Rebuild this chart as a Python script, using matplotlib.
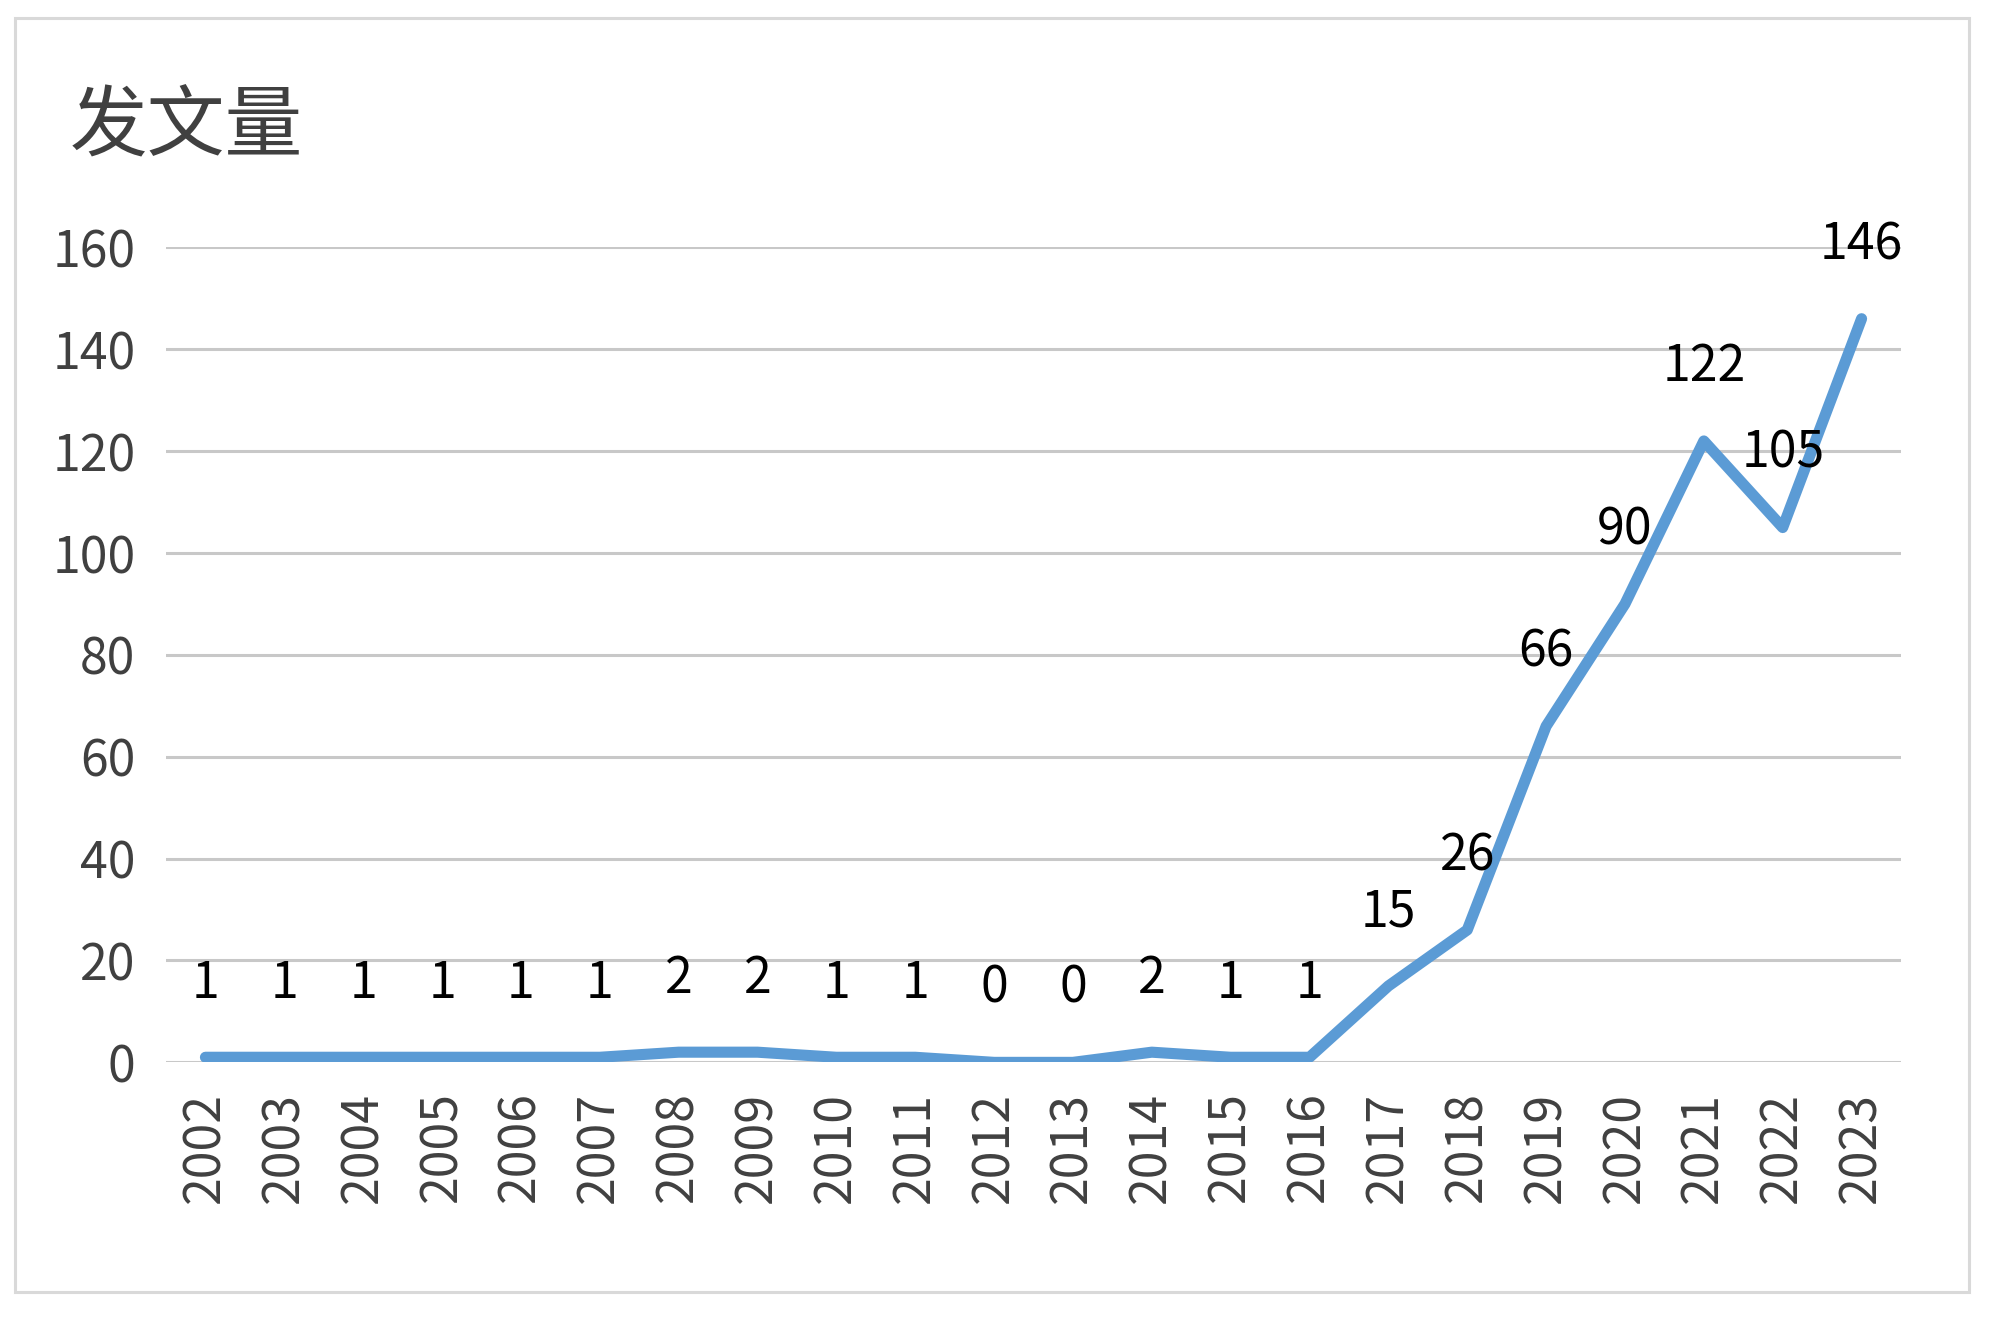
import matplotlib
matplotlib.use("Agg")
import matplotlib.pyplot as plt
from matplotlib.patches import Rectangle

# data
years = [str(y) for y in range(2002, 2024)]
counts = [1, 1, 1, 1, 1, 1, 2, 2, 1, 1, 0, 0, 2, 1, 1, 15, 26, 66, 90, 122, 105, 146]
y_ticks = [0, 20, 40, 60, 80, 100, 120, 140, 160]
title = "发文量"

plt.rcParams['font.family'] = ['Noto Sans CJK SC', 'DejaVu Sans']

fig = plt.figure(figsize=(20, 13.23), dpi=100)
ax = fig.add_axes([0.083, 0.197, 0.8675, 0.616])

x = list(range(len(years)))

# gridlines
for t in y_ticks:
    ax.axhline(t, color='#C8C8C8', linewidth=2.2, zorder=1)

ax.plot(x, counts, color='#5B9BD5', linewidth=8,
        solid_capstyle='round', solid_joinstyle='round', zorder=3)

# data labels above the points
for xi, v in zip(x, counts):
    ax.annotate(str(v), (xi, v), xytext=(0, 53), textcoords='offset points',
                ha='center', va='center', fontsize=36, color='black', zorder=4)

ax.set_xlim(-0.5, len(years) - 0.5)
ax.set_ylim(0, 160)
ax.set_yticks(y_ticks)
ax.set_xticks(x)
ax.set_xticklabels(years, rotation=90)
ax.tick_params(axis='both', length=0, labelsize=36, colors='#404040')
ax.tick_params(axis='y', pad=22)
ax.tick_params(axis='x', pad=21)
for s in ax.spines.values():
    s.set_visible(False)
ax.set_facecolor('none')

# title
fig.text(0.035, 0.903, title, fontsize=56, color='#404040', ha='left', va='center')

# outer chart border
fig.patches.append(Rectangle((0.0075, 0.0234), 0.977, 0.963, transform=fig.transFigure,
                             fill=False, edgecolor='#D9D9D9', linewidth=2.2))

fig.savefig('out.png', dpi=100, facecolor='white')
